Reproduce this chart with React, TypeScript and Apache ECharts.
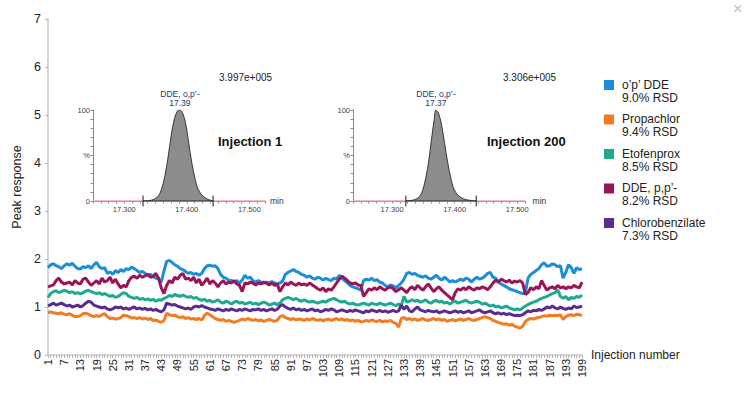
import React, { useEffect, useRef } from "react";
import * as echarts from "echarts";

const injections: string[] = Array.from({ length: 199 }, (_, i) => String(i + 1));

const opDDE = [
  1.82, 1.88, 1.90, 1.86, 1.84, 1.80, 1.86, 1.90, 1.87, 1.91,
  1.85, 1.80, 1.79, 1.84, 1.82, 1.86, 1.80, 1.88, 1.93, 1.84,
  1.80, 1.82, 1.70, 1.73, 1.68, 1.76, 1.72, 1.78, 1.74, 1.80,
  1.78, 1.83, 1.80, 1.76, 1.72, 1.74, 1.70, 1.66, 1.68, 1.63,
  1.60, 1.58, 1.52, 1.75, 1.95, 1.97, 1.93, 1.88, 1.85, 1.80,
  1.78, 1.74, 1.70, 1.72, 1.68, 1.70, 1.66, 1.70, 1.80, 1.86,
  1.87, 1.85, 1.86, 1.80, 1.68, 1.62, 1.60, 1.56, 1.55, 1.52,
  1.55, 1.50, 1.56, 1.66, 1.60, 1.62, 1.55, 1.52, 1.55, 1.52,
  1.50, 1.52, 1.50, 1.53, 1.50, 1.48, 1.50, 1.54, 1.68, 1.72,
  1.75, 1.78, 1.74, 1.72, 1.68, 1.66, 1.62, 1.65, 1.60, 1.58,
  1.62, 1.60, 1.56, 1.60, 1.57, 1.55, 1.60, 1.58, 1.66, 1.60,
  1.55, 1.50, 1.45, 1.42, 1.40, 1.38, 1.35, 1.55, 1.58, 1.56,
  1.60, 1.55, 1.57, 1.52, 1.50, 1.45, 1.42, 1.46, 1.44, 1.40,
  1.45, 1.50, 1.58, 1.70, 1.72, 1.68, 1.70, 1.66, 1.64, 1.62,
  1.65, 1.60, 1.58, 1.62, 1.66, 1.60, 1.56, 1.62, 1.58, 1.52,
  1.55, 1.52, 1.55, 1.58, 1.55, 1.60, 1.58, 1.52, 1.58, 1.62,
  1.58, 1.60, 1.64, 1.70, 1.72, 1.62, 1.60, 1.52, 1.48, 1.45,
  1.42, 1.38, 1.36, 1.34, 1.32, 1.30, 1.28, 1.30, 1.60, 1.68,
  1.72, 1.76, 1.80, 1.88, 1.92, 1.85, 1.86, 1.90, 1.88, 1.84,
  1.86, 1.60, 1.72, 1.88, 1.82, 1.70, 1.82, 1.78, 1.80,
];

const propachlor = [
  0.88, 0.90, 0.88, 0.87, 0.86, 0.88, 0.85, 0.84, 0.86, 0.83,
  0.80, 0.80, 0.82, 0.86, 0.87, 0.85, 0.82, 0.80, 0.82, 0.80,
  0.84, 0.86, 0.80, 0.76, 0.77, 0.75, 0.76, 0.78, 0.83, 0.82,
  0.80, 0.77, 0.78, 0.76, 0.78, 0.75, 0.77, 0.74, 0.76, 0.72,
  0.73, 0.70, 0.68, 0.72, 0.87, 0.84, 0.82, 0.83, 0.80, 0.78,
  0.80, 0.76, 0.78, 0.75, 0.76, 0.74, 0.76, 0.73, 0.82, 0.87,
  0.84, 0.80, 0.76, 0.74, 0.72, 0.74, 0.70, 0.72, 0.70, 0.68,
  0.70, 0.72, 0.75, 0.73, 0.76, 0.74, 0.72, 0.74, 0.71, 0.73,
  0.70, 0.72, 0.74, 0.72, 0.70, 0.72, 0.80, 0.82, 0.78, 0.76,
  0.74, 0.76, 0.73, 0.75, 0.74, 0.72, 0.75, 0.73, 0.76, 0.74,
  0.72, 0.74, 0.71, 0.73, 0.75, 0.72, 0.74, 0.76, 0.73, 0.75,
  0.72, 0.74, 0.71, 0.73, 0.70, 0.72, 0.69, 0.70, 0.72, 0.70,
  0.73, 0.71, 0.70, 0.72, 0.69, 0.71, 0.70, 0.72, 0.68, 0.66,
  0.58, 0.76, 0.78, 0.74, 0.76, 0.73, 0.75, 0.72, 0.74, 0.76,
  0.73, 0.72, 0.74, 0.76, 0.73, 0.75, 0.72, 0.74, 0.70, 0.72,
  0.74, 0.71, 0.73, 0.75, 0.72, 0.74, 0.76, 0.73, 0.72, 0.74,
  0.76, 0.78, 0.80, 0.78, 0.76, 0.72, 0.70, 0.68, 0.66, 0.64,
  0.65, 0.62, 0.64, 0.60, 0.58, 0.56, 0.60, 0.70, 0.74, 0.76,
  0.75, 0.77, 0.78, 0.80, 0.82, 0.81, 0.83, 0.82, 0.83, 0.82,
  0.84, 0.74, 0.80, 0.83, 0.84, 0.82, 0.85, 0.84, 0.82,
];

const etofenprox = [
  1.20, 1.28, 1.32, 1.34, 1.30, 1.32, 1.35, 1.33, 1.30, 1.32,
  1.28, 1.30, 1.27, 1.30, 1.33, 1.35, 1.32, 1.30, 1.28, 1.30,
  1.26, 1.28, 1.25, 1.22, 1.24, 1.20, 1.22, 1.26, 1.30, 1.28,
  1.22, 1.20, 1.18, 1.20, 1.16, 1.18, 1.15, 1.17, 1.14, 1.16,
  1.12, 1.15, 1.14, 1.18, 1.20, 1.24, 1.22, 1.26, 1.24, 1.22,
  1.25, 1.22, 1.20, 1.22, 1.18, 1.20, 1.16, 1.14, 1.16, 1.12,
  1.14, 1.10, 1.12, 1.15, 1.10, 1.08, 1.12, 1.10, 1.06, 1.10,
  1.12, 1.08, 1.10, 1.06, 1.08, 1.10, 1.06, 1.08, 1.05, 1.08,
  1.10, 1.08, 1.04, 1.06, 1.08, 1.05, 1.08, 1.15, 1.18, 1.20,
  1.18, 1.15, 1.18, 1.14, 1.12, 1.15, 1.12, 1.10, 1.12, 1.10,
  1.08, 1.10, 1.12, 1.10, 1.14, 1.16, 1.18, 1.15, 1.12, 1.10,
  1.12, 1.08, 1.06, 1.08, 1.05, 1.04, 1.06, 1.08, 1.06, 1.04,
  1.08, 1.06, 1.05, 1.08, 1.06, 1.04, 1.06, 1.08, 1.05, 1.03,
  1.06, 1.04, 1.22, 1.10, 1.12, 1.15, 1.12, 1.14, 1.10, 1.12,
  1.15, 1.10, 1.08, 1.12, 1.14, 1.10, 1.12, 1.08, 1.10, 1.06,
  1.10, 1.12, 1.08, 1.10, 1.12, 1.14, 1.10, 1.08, 1.10, 1.12,
  1.10, 1.06, 1.08, 1.05, 1.02, 1.04, 1.00, 1.02, 0.98, 1.00,
  1.02, 0.98, 0.96, 0.94, 0.96, 0.94, 0.98, 1.02, 1.05, 1.08,
  1.10, 1.12, 1.15, 1.18, 1.20, 1.22, 1.25, 1.28, 1.30, 1.36,
  1.22, 1.18, 1.22, 1.15, 1.20, 1.18, 1.22, 1.20, 1.25,
];

const ppDDE = [
  1.42, 1.44, 1.46, 1.55, 1.60, 1.52, 1.48, 1.50, 1.52, 1.46,
  1.55, 1.50, 1.48, 1.58, 1.60, 1.52, 1.45, 1.50, 1.55, 1.48,
  1.60, 1.52, 1.55, 1.62, 1.50, 1.58, 1.48, 1.40, 1.45, 1.42,
  1.55, 1.62, 1.64, 1.60, 1.66, 1.62, 1.65, 1.68, 1.62, 1.64,
  1.70, 1.60, 1.40, 1.28, 1.45, 1.55, 1.50, 1.62, 1.58, 1.66,
  1.70, 1.58, 1.60, 1.55, 1.62, 1.50, 1.58, 1.45, 1.52, 1.60,
  1.48, 1.55, 1.50, 1.42, 1.50, 1.55, 1.48, 1.52, 1.50, 1.55,
  1.48, 1.45, 1.32, 1.50, 1.48, 1.52, 1.50, 1.46, 1.50, 1.48,
  1.52, 1.50, 1.46, 1.50, 1.45, 1.48, 1.32, 1.42, 1.50, 1.46,
  1.52, 1.48, 1.45, 1.50, 1.46, 1.48, 1.45, 1.50, 1.46, 1.42,
  1.38, 1.35, 1.40, 1.32, 1.38, 1.35, 1.42, 1.50, 1.58, 1.64,
  1.60, 1.55, 1.50, 1.48, 1.50, 1.46, 1.45, 1.22, 1.30, 1.38,
  1.35, 1.40, 1.36, 1.42, 1.38, 1.35, 1.40, 1.42, 1.38, 1.32,
  1.36, 1.40, 1.35, 1.30, 1.38, 1.42, 1.36, 1.45, 1.40, 1.35,
  1.42, 1.48, 1.40, 1.32, 1.38, 1.42, 1.35, 1.30, 1.25, 1.20,
  1.15, 1.30, 1.38, 1.35, 1.40, 1.36, 1.42, 1.38, 1.35, 1.40,
  1.38, 1.42, 1.40, 1.36, 1.42, 1.50, 1.56, 1.52, 1.58, 1.55,
  1.52, 1.56, 1.50, 1.54, 1.52, 1.55, 1.50, 1.26, 1.30, 1.40,
  1.36, 1.42, 1.38, 1.55, 1.45, 1.35, 1.40, 1.42, 1.38, 1.45,
  1.40, 1.42, 1.38, 1.42, 1.40, 1.45, 1.42, 1.40, 1.52,
];

const chlorobenzilate = [
  1.02, 1.05, 1.08, 1.04, 1.06, 1.08, 1.05, 1.02, 1.04, 1.00,
  1.02, 1.04, 1.00, 1.03, 1.08, 1.12, 1.10, 1.04, 1.02, 1.00,
  0.98, 1.00, 0.96, 0.94, 0.96, 1.00, 0.98, 1.00, 0.96, 0.98,
  0.95, 0.98, 1.00, 0.96, 0.98, 0.95, 0.97, 0.94, 0.96, 0.93,
  0.95, 0.92, 0.90, 0.94, 1.08, 1.06, 1.04, 1.05, 1.02, 1.00,
  0.98, 0.96, 0.98, 0.95, 1.00, 1.02, 1.00, 1.03, 1.00, 0.98,
  0.96, 0.95, 0.93, 0.96, 0.94, 0.92, 0.95, 0.93, 0.96, 0.94,
  0.92, 0.95, 0.93, 0.96, 0.94, 0.92, 0.95, 0.94, 0.96, 0.93,
  0.95, 0.92, 0.94, 0.96, 0.93, 0.95, 1.02, 1.05, 1.00, 0.97,
  0.95, 0.98, 0.94, 0.96, 0.93, 0.95, 0.92, 0.94, 0.96, 0.92,
  0.94, 0.90, 0.92, 0.95, 0.93, 0.96, 0.94, 0.90, 0.92, 0.94,
  0.92, 0.90, 0.93, 0.91, 0.94, 0.92, 0.90, 0.88, 0.92, 0.90,
  0.94, 0.92, 0.90, 0.93, 0.90, 0.92, 0.89, 0.91, 0.93, 0.90,
  0.92, 1.04, 0.95, 1.02, 0.92, 0.90, 0.96, 1.00, 0.94, 0.92,
  0.90, 0.93, 0.91, 0.90, 0.92, 0.88, 0.90, 0.92, 0.90, 0.88,
  0.90, 0.92, 0.89, 0.91, 0.88, 0.90, 0.92, 0.88, 0.90, 0.92,
  0.94, 0.90, 0.88, 0.90, 0.92, 0.88, 0.86, 0.88, 0.85, 0.87,
  0.84, 0.86, 0.84, 0.82, 0.83, 0.82, 0.84, 0.88, 0.92, 0.90,
  0.93, 0.92, 0.95, 0.93, 0.96, 1.00, 0.98, 1.02, 0.98, 0.96,
  1.00, 0.97, 0.95, 0.98, 0.96, 1.02, 0.99, 1.00, 1.02,
];

const seriesNames = ["o’p’ DDE", "Propachlor", "Etofenprox", "DDE, p,p’-", "Chlorobenzilate"];
const rsdLabels = ["9.0% RSD", "9.4% RSD", "8.5% RSD", "8.2% RSD", "7.3% RSD"];
const seriesData = [opDDE, propachlor, etofenprox, ppDDE, chlorobenzilate];
const colors = ["#1a8ed8", "#f47c20", "#1fa98f", "#9b1456", "#5b2c8f"];

// Chromatogram insets (retention time in min, relative intensity %)
const peak1: [number, number][] = [
  [17.33, 0], [17.34, 0.5], [17.348, 2], [17.355, 6], [17.36, 14], [17.365, 28],
  [17.37, 48], [17.375, 72], [17.38, 90], [17.385, 99], [17.389, 100], [17.393, 97],
  [17.398, 86], [17.403, 64], [17.408, 42], [17.413, 25], [17.418, 13], [17.425, 6],
  [17.432, 2.5], [17.437, 1], [17.442, 0],
];
const peak2: [number, number][] = [
  [17.322, 0], [17.33, 0.5], [17.338, 2], [17.344, 5], [17.349, 12], [17.354, 26],
  [17.359, 46], [17.363, 68], [17.367, 88], [17.37, 100], [17.374, 97], [17.379, 84],
  [17.384, 63], [17.389, 42], [17.394, 25], [17.399, 13], [17.406, 6], [17.414, 2.5],
  [17.422, 1], [17.4345, 0],
];
const peakLimits1 = [17.33, 17.442];
const peakLimits2 = [17.322, 17.4345];
const apexTimes = ["17.39", "17.37"];
const maxIntensities = ["3.997e+005", "3.306e+005"];
const insetTitles = ["Injection 1", "Injection 200"];
const insetRanges = [
  [17.25, 17.525],
  [17.2375, 17.5125],
];

const FONT = "'Liberation Sans', Arial, Helvetica, sans-serif";

export default function App() {
  const ref = useRef<HTMLDivElement>(null);

  useEffect(() => {
    if (!ref.current) return;
    const chart = echarts.init(ref.current, undefined, { renderer: "svg" });

    const insetXAxis = (gridIndex: number, range: number[]) => ({
      gridIndex,
      type: "value",
      min: range[0],
      max: range[1],
      interval: 0.0125,
      name: "min",
      nameLocation: "end",
      nameGap: 5,
      nameTextStyle: { fontSize: 8.5, color: "#333", fontFamily: FONT, verticalAlign: "middle" },
      axisLine: { show: true, lineStyle: { color: "#8a8a8a", width: 1 } },
      axisTick: { show: true, length: 2.5, lineStyle: { color: "#8a8a8a" } },
      axisLabel: {
        fontSize: 7.5,
        color: "#444",
        margin: 4,
        fontFamily: FONT,
        formatter: (v: number) => (Math.abs(v * 10 - Math.round(v * 10)) < 1e-4 ? v.toFixed(3) : ""),
      },
      splitLine: { show: false },
    });
    const insetYAxis = (gridIndex: number) => ({
      gridIndex,
      type: "value",
      min: 0,
      max: 100,
      interval: 10,
      axisLine: { show: true, lineStyle: { color: "#8a8a8a", width: 1 } },
      axisTick: { show: true, length: 2.5, lineStyle: { color: "#8a8a8a" } },
      axisLabel: {
        fontSize: 7.5,
        color: "#444",
        margin: 3,
        fontFamily: FONT,
        formatter: (v: number) => (v === 100 ? "100" : v === 50 ? "%" : v === 0 ? "0" : ""),
      },
      splitLine: { show: false },
    });

    const insetSeries = (idx: number, peak: [number, number][], limits: number[], range: number[]) => [
      {
        type: "line",
        xAxisIndex: idx + 1,
        yAxisIndex: idx + 1,
        data: [[range[0], 0], [range[1], 0]],
        symbol: "none",
        silent: true,
        lineStyle: { color: "#f2a0a6", width: 1.6 },
        z: 3,
      },
      {
        type: "line",
        xAxisIndex: idx + 1,
        yAxisIndex: idx + 1,
        data: peak,
        smooth: 0.35,
        symbol: "none",
        silent: true,
        lineStyle: { color: "#2a2a2a", width: 0.9 },
        areaStyle: { color: "#8c8c8c", opacity: 1 },
        z: 4,
        markPoint: {
          symbol: "circle",
          symbolSize: 1,
          itemStyle: { color: "rgba(0,0,0,0)" },
          data: [{ coord: peak.reduce((a, b) => (b[1] > a[1] ? b : a)) }],
          label: {
            show: true,
            position: "top",
            distance: 2,
            formatter: "DDE, o,p’-\n" + apexTimes[idx],
            color: "#2b2f6e",
            fontSize: 8.5,
            lineHeight: 9,
            fontFamily: FONT,
          },
        },
      },
      {
        type: "line",
        xAxisIndex: idx + 1,
        yAxisIndex: idx + 1,
        data: [[limits[0], 0], [limits[1], 0]],
        symbol: "none",
        silent: true,
        lineStyle: { color: "#2a2a2a", width: 1 },
        z: 5,
      },
      ...limits.map((t) => ({
        type: "line",
        xAxisIndex: idx + 1,
        yAxisIndex: idx + 1,
        data: [[t, -6], [t, 6]],
        symbol: "none",
        silent: true,
        clip: false,
        lineStyle: { color: "#1a1a1a", width: 1 },
        z: 6,
      })),
    ];

    const legendGraphics: any[] = [];
    seriesNames.forEach((name, k) => {
      const y0 = 80 + k * 34.5;
      legendGraphics.push({
        type: "rect",
        left: 604,
        top: y0,
        shape: { width: 10, height: 10 },
        style: { fill: colors[k] },
      });
      legendGraphics.push({
        type: "text",
        left: 622,
        top: y0 - 2,
        style: {
          text: name + "\n" + rsdLabels[k],
          fill: "#222",
          font: `12px ${FONT}`,
          lineHeight: 13,
        },
      });
    });

    const option: any = {
      animation: false,
      backgroundColor: "#ffffff",
      textStyle: { fontFamily: FONT },
      grid: [
        { left: 48, top: 19, width: 534, height: 336 },
        { left: 93, top: 110, width: 172, height: 91 },
        { left: 353, top: 110, width: 172, height: 91 },
      ],
      xAxis: [
        {
          gridIndex: 0,
          type: "category",
          data: injections,
          boundaryGap: false,
          name: "Injection number",
          nameLocation: "end",
          nameGap: 9,
          nameTextStyle: { fontSize: 12, color: "#222", fontFamily: FONT, verticalAlign: "middle" },
          axisLine: { show: true, lineStyle: { color: "#c8c8c8", width: 1.5 } },
          axisTick: { show: true, interval: 0, length: 3, lineStyle: { color: "#b5b5b5" } },
          axisLabel: { interval: 5, rotate: 90, fontSize: 11, color: "#222", margin: 4, fontFamily: FONT },
          splitLine: { show: false },
        },
        insetXAxis(1, insetRanges[0]),
        insetXAxis(2, insetRanges[1]),
      ],
      yAxis: [
        {
          gridIndex: 0,
          type: "value",
          min: 0,
          max: 7,
          interval: 1,
          name: "Peak response",
          nameLocation: "middle",
          nameGap: 19,
          nameTextStyle: { fontSize: 12.5, color: "#222", fontFamily: FONT },
          axisLine: { show: true, lineStyle: { color: "#c8c8c8", width: 1.5 } },
          axisTick: { show: true, length: 3, lineStyle: { color: "#b5b5b5" } },
          axisLabel: { fontSize: 12.5, color: "#222", margin: 7, fontFamily: FONT },
          splitLine: { show: false },
        },
        insetYAxis(1),
        insetYAxis(2),
      ],
      series: [
        ...seriesData.map((d, k) => ({
          name: seriesNames[k],
          type: "line",
          xAxisIndex: 0,
          yAxisIndex: 0,
          data: d,
          symbol: "none",
          lineStyle: { color: colors[k], width: 3 },
          itemStyle: { color: colors[k] },
          z: 2,
        })),
        ...insetSeries(0, peak1, peakLimits1, insetRanges[0]),
        ...insetSeries(1, peak2, peakLimits2, insetRanges[1]),
      ],
      graphic: [
        ...legendGraphics,
        {
          type: "text",
          left: 219,
          top: 72,
          style: { text: maxIntensities[0], fill: "#222", font: `10px ${FONT}` },
        },
        {
          type: "text",
          left: 503,
          top: 72,
          style: { text: maxIntensities[1], fill: "#222", font: `10px ${FONT}` },
        },
        {
          type: "text",
          left: 218,
          top: 135,
          style: { text: insetTitles[0], fill: "#111", font: `bold 13px ${FONT}` },
        },
        {
          type: "text",
          left: 487,
          top: 135,
          style: { text: insetTitles[1], fill: "#111", font: `bold 13px ${FONT}` },
        },
        {
          type: "text",
          left: 733,
          top: 0,
          style: { text: "×", fill: "#bdbdbd", font: `16px ${FONT}` },
        },
      ],
    };

    chart.setOption(option);
    return () => chart.dispose();
  }, []);

  return (
    <div
      ref={ref}
      style={{ position: "fixed", left: 0, top: 0, width: 751, height: 393, background: "#fff" }}
    />
  );
}
